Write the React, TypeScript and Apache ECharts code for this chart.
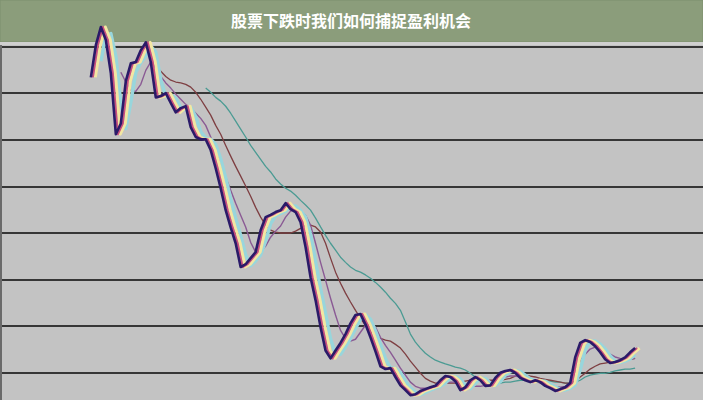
import React, { useEffect, useRef } from "react";
import * as echarts from "echarts";

const titleText = "股票下跌时我们如何捕捉盈利机会";

// day index of the first point of each line (one day = one step)
const priceStartDay = 18;
const pinkStartDay = 18.4;
const yellowStartDay = 18.9;
const cyanStartDay = 20;
const purpleStartDay = 24;
const brownStartDay = 30;
const tealStartDay = 41;

// price (dark line)
const priceValues = [
  73.4, 80.3, 84.2, 81.4, 74.3, 61.2, 63.5, 72.6, 76.4, 76.7,
  79.2, 80.9, 76.7, 69.1, 69.4, 70.0, 67.9, 65.9, 66.8, 67.2,
  62.7, 60.6, 60.1, 60.1, 57.8, 53.9, 49.6, 44.9, 41.2, 37.8,
  32.7, 33.3, 34.6, 35.9, 40.6, 43.4, 43.9, 44.5, 44.9, 46.4,
  45.1, 44.5, 42.3, 37.0, 30.5, 25.6, 19.8, 14.8, 13.1, 14.8,
  16.4, 18.3, 20.6, 22.4, 22.6, 20.4, 17.6, 14.6, 11.4, 10.8,
  11.0, 9.1, 7.3, 6.3, 5.2, 5.4, 6.1, 6.5, 6.9, 7.2,
  8.4, 9.3, 9.1, 8.2, 6.3, 6.9, 8.4, 9.1, 8.4, 7.2,
  7.3, 8.9, 10.0, 10.4, 10.6, 10.0, 8.9, 8.4, 8.0, 8.4,
  8.0, 7.2, 6.7, 6.1, 6.5, 6.9, 7.8, 13.3, 16.4, 17.0,
  16.6, 15.7, 14.4, 12.9, 12.1, 12.3, 12.7, 13.3, 14.4, 15.3,
];

// short average (light cyan band edge)
const cyanValues = [
  76.9, 82.3, 82.8, 77.9, 67.8, 62.4, 68.1, 74.5, 76.6, 78.0,
  80.1, 78.8, 72.9, 69.3, 69.7, 69.0, 66.9, 66.4, 67.0, 65.0,
  61.7, 60.4, 60.1, 59.0, 55.9, 51.8, 47.3, 43.1, 39.5, 35.3,
  33.0, 34.0, 35.3, 38.3, 42.0, 43.7, 44.2, 44.7, 45.7, 45.8,
  44.8, 43.4, 39.7, 33.8, 28.1, 22.7, 17.3, 14.0, 14.0, 15.6,
  17.4, 19.5, 21.5, 22.5, 21.5, 19.0, 16.1, 13.0, 11.1, 10.9,
  10.1, 8.2, 6.8, 5.8, 5.3, 5.8, 6.3, 6.7, 7.1, 7.8,
  8.9, 9.2, 8.7, 7.3, 6.6, 7.7, 8.8, 8.8, 7.8, 7.3,
  8.1, 9.5, 10.2, 10.5, 10.3, 9.5, 8.7, 8.2, 8.2, 8.2,
  7.6, 7.0, 6.4, 6.3, 6.7, 7.4, 10.6, 14.9, 16.7, 16.8,
  16.2, 15.1, 13.7, 12.5, 12.2, 12.5, 13.0, 13.9,
];

// purple average
const purpleValues = [
  74.5, 72.4, 70.6, 70.4, 71.9, 74.9, 76.7, 75.4, 73.6, 72.2,
  71.1, 69.8, 68.7, 67.6, 66.8, 65.7, 64.6, 63.1, 60.6, 57.8,
  55.0, 52.0, 49.2, 46.4, 43.8, 41.3, 38.0, 35.9, 35.9, 37.2,
  39.1, 40.4, 41.5, 43.4, 44.7, 45.1, 44.7, 43.8, 41.7, 37.8,
  33.7, 29.9, 26.0, 22.4, 19.1, 17.4, 16.8, 17.2, 18.7, 20.2,
  20.6, 19.8, 17.6, 15.9, 14.4, 12.7, 11.0, 9.5, 8.0, 7.1,
  6.7, 6.7, 6.7, 6.9, 7.3, 7.8, 8.0, 8.0, 7.6, 7.3,
  7.1, 7.1, 7.1, 7.3, 7.6, 8.0, 8.6, 9.1, 9.3, 9.3,
  9.1, 8.8, 8.6, 8.2, 7.8, 7.6, 7.3, 7.1, 6.9, 7.1,
  7.8, 10.1, 12.5, 14.0, 15.1, 15.5, 15.3, 14.6, 14.0, 13.4,
  13.1, 12.9, 12.9, 13.1,
];

// brown average
const brownValues = [
  76.4, 75.8, 74.7, 73.6, 72.8, 72.4, 72.2, 71.9, 71.3, 70.2,
  68.7, 67.0, 65.3, 63.1, 61.2, 58.8, 56.5, 54.3, 52.2, 50.1,
  47.9, 45.5, 43.4, 41.7, 40.6, 40.2, 40.0, 40.0, 40.0, 40.4,
  41.0, 41.7, 41.7, 41.3, 40.2, 37.8, 34.6, 31.6, 29.2, 27.1,
  25.2, 23.4, 21.7, 20.2, 18.9, 17.9, 17.4, 17.0, 16.8, 16.1,
  15.3, 14.0, 12.5, 11.2, 9.9, 8.8, 8.2, 7.8, 7.8, 7.8,
  7.8, 7.8, 8.0, 8.2, 8.4, 8.4, 8.4, 8.4, 8.4, 8.4,
  8.4, 8.6, 8.8, 9.3, 9.5, 9.5, 9.3, 9.1, 8.8, 8.6,
  8.4, 8.2, 8.0, 7.8, 7.8, 8.2, 9.1, 9.9, 10.8, 11.4,
  11.9, 12.1, 12.3, 12.5, 12.7, 12.9, 12.9, 13.1,
];

// teal (long) average
const tealValues = [
  71.1, 70.2, 69.1, 68.3, 67.2, 65.7, 64.0, 62.3, 60.6, 58.8,
  57.3, 55.8, 54.3, 53.1, 51.6, 50.5, 49.6, 49.0, 48.1, 47.0,
  46.0, 44.9, 43.2, 41.3, 39.5, 37.8, 36.3, 34.8, 33.7, 32.7,
  32.0, 31.6, 31.0, 30.3, 29.4, 28.4, 27.3, 26.0, 24.9, 23.4,
  20.9, 18.3, 16.6, 15.3, 14.2, 13.4, 12.7, 12.3, 11.9, 11.6,
  11.2, 11.0, 10.6, 9.9, 9.1, 8.4, 8.0, 7.8, 7.8, 7.8,
  8.0, 8.0, 8.2, 8.4, 8.4, 8.4, 8.4, 8.4, 8.2, 8.2,
  8.0, 8.0, 7.8, 7.8, 8.0, 8.4, 9.1, 9.5, 9.7, 9.9,
  9.9, 10.1, 10.4, 10.6, 10.8, 10.8, 11.0,
];

const toPoints = (start: number, values: number[]) =>
  values.map((v, i) => [start + i, v]);

const lineSeries = (
  name: string,
  start: number,
  values: number[],
  color: string,
  width: number
) => ({
  name,
  type: "line",
  data: toPoints(start, values),
  showSymbol: false,
  symbol: "none",
  clip: false,
  lineStyle: { color, width, join: "round" },
  z: 3,
});

export default function App() {
  const ref = useRef<HTMLDivElement>(null);

  useEffect(() => {
    if (!ref.current) return;
    const chart = echarts.init(ref.current, undefined, { renderer: "svg" });
    chart.setOption({
      animation: false,
      backgroundColor: "#c3c3c3",
      grid: { left: 1, right: 0, top: 0, bottom: 27.2 },
      xAxis: {
        type: "value",
        min: 0,
        max: 140.6,
        show: false,
      },
      yAxis: {
        type: "value",
        min: 10,
        max: 90,
        interval: 10,
        axisLabel: { show: false },
        axisTick: { show: false },
        axisLine: { show: false },
        splitLine: { show: true, lineStyle: { color: "#363636", width: 2 } },
      },
      graphic: [
        {
          type: "line",
          z: 1,
          shape: { x1: 1, y1: 42, x2: 1, y2: 400 },
          style: { stroke: "#6a6a6a", lineWidth: 2 },
        },
        {
          type: "rect",
          z: 1,
          shape: { x: 0, y: 0, width: 703, height: 42 },
          style: { fill: "#8b9d7b", stroke: "#7d8f6e", lineWidth: 1 },
        },
        {
          type: "rect",
          z: 1,
          shape: { x: 0, y: 42, width: 703, height: 3 },
          style: { fill: "#d0d0d0" },
        },
        {
          type: "text",
          z: 1,
          x: 351,
          y: 20,
          style: {
            text: titleText,
            fill: "#ffffff",
            font: "bold 16px 'Noto Sans CJK SC', sans-serif",
            align: "center",
            verticalAlign: "middle",
          },
        },
      ],
      series: [
        lineSeries("teal", tealStartDay, tealValues, "#4b9b93", 1.3),
        lineSeries("brown", brownStartDay, brownValues, "#7e3f42", 1.3),
        lineSeries("purple", purpleStartDay, purpleValues, "#8a5a94", 1.4),
        lineSeries("cyan", cyanStartDay, cyanValues, "#98d6dc", 3.5),
        lineSeries("yellow", yellowStartDay, priceValues, "#f3e6a2", 3),
        lineSeries("pink", pinkStartDay, priceValues, "#c8507e", 2),
        lineSeries("price", priceStartDay, priceValues, "#2a1a68", 2.6),
      ],
    });
    return () => chart.dispose();
  }, []);

  return (
    <div
      ref={ref}
      style={{ position: "fixed", left: 0, top: 0, width: 703, height: 400 }}
    />
  );
}
